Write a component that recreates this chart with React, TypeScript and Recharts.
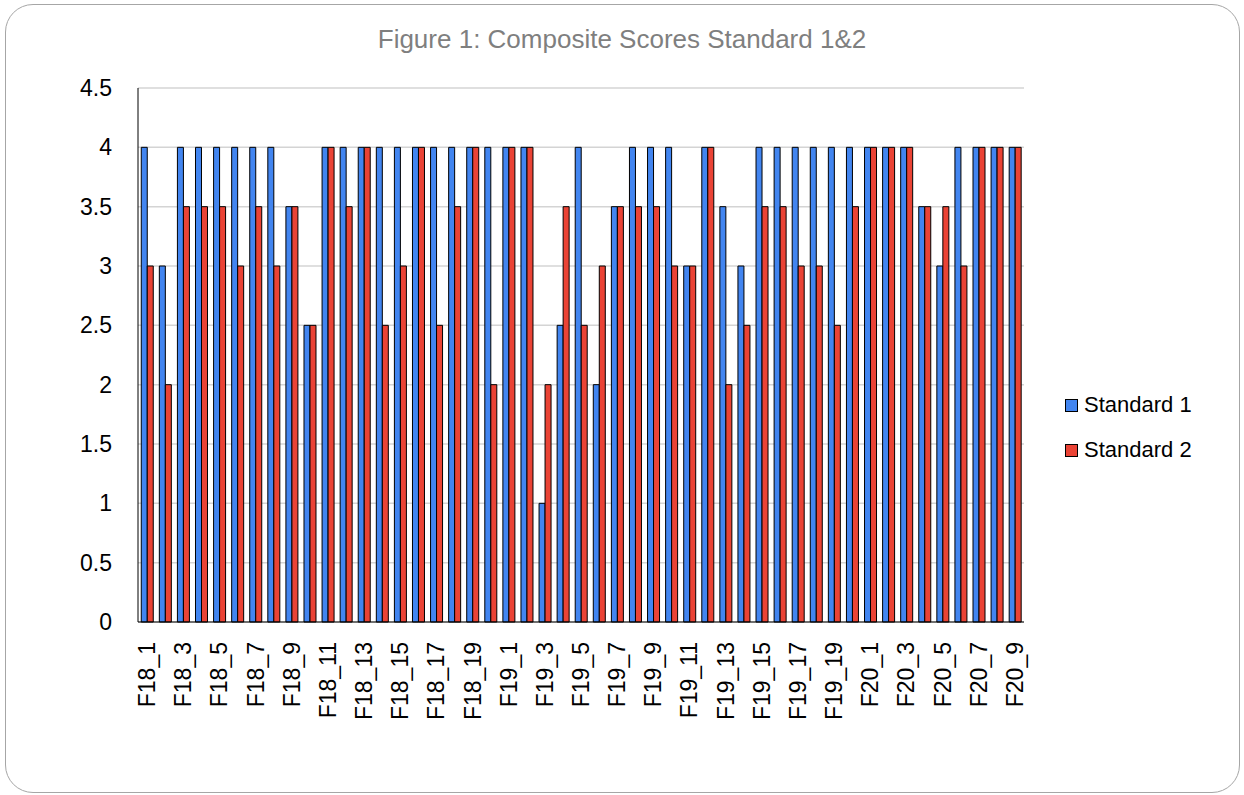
import React from 'react';
import { BarChart, Bar, XAxis, YAxis, CartesianGrid } from 'recharts';

const categories = [
  'F18_1','F18_2','F18_3','F18_4','F18_5','F18_6','F18_7','F18_8','F18_9','F18_10',
  'F18_11','F18_12','F18_13','F18_14','F18_15','F18_16','F18_17','F18_18','F18_19','F18_20',
  'F19_1','F19_2','F19_3','F19_4','F19_5','F19_6','F19_7','F19_8','F19_9','F19_10',
  'F19_11','F19_12','F19_13','F19_14','F19_15','F19_16','F19_17','F19_18','F19_19','F19_20',
  'F20_1','F20_2','F20_3','F20_4','F20_5','F20_6','F20_7','F20_8','F20_9',
];

const standard1 = [
  4, 3, 4, 4, 4, 4, 4, 4, 3.5, 2.5,
  4, 4, 4, 4, 4, 4, 4, 4, 4, 4,
  4, 4, 1, 2.5, 4, 2, 3.5, 4, 4, 4,
  3, 4, 3.5, 3, 4, 4, 4, 4, 4, 4,
  4, 4, 4, 3.5, 3, 4, 4, 4, 4,
];

const standard2 = [
  3, 2, 3.5, 3.5, 3.5, 3, 3.5, 3, 3.5, 2.5,
  4, 3.5, 4, 2.5, 3, 4, 2.5, 3.5, 4, 2,
  4, 4, 2, 3.5, 2.5, 3, 3.5, 3.5, 3.5, 3,
  3, 4, 2, 2.5, 3.5, 3.5, 3, 3, 2.5, 3.5,
  4, 4, 4, 3.5, 3.5, 3, 4, 4, 4,
];

const yTicks = [0, 0.5, 1, 1.5, 2, 2.5, 3, 3.5, 4, 4.5];

const seriesNames = ['Standard 1', 'Standard 2'];
const seriesColors = ['#4285f0', '#ea4335'];

const data = categories.map((c, i) => ({ name: c, s1: standard1[i], s2: standard2[i] }));

const FONT = 'Arial, "Liberation Sans", Helvetica, sans-serif';

const XTick = (props: any) => {
  const { x, y, payload } = props;
  return (
    <text
      x={x}
      y={y}
      transform={`rotate(-90, ${x}, ${y})`}
      textAnchor="end"
      dominantBaseline="central"
      dx={-12}
      fontSize={23}
      fontFamily={FONT}
      fill="#000"
    >
      {payload.value}
    </text>
  );
};

export default function App() {
  return (
    <div style={{ position: 'absolute', left: 0, top: 0, width: 1244, height: 795, background: '#fff', fontFamily: FONT }}>
      <div
        style={{
          position: 'absolute',
          left: 5,
          top: 4,
          width: 1235,
          height: 789,
          border: '1px solid #a6a6a6',
          borderRadius: 28,
          boxSizing: 'border-box',
        }}
      />
      <div
        style={{
          position: 'absolute',
          left: 0,
          top: 24,
          width: 1244,
          textAlign: 'center',
          fontSize: 26,
          lineHeight: '30px',
          color: '#7f7f7f',
          fontFamily: FONT,
        }}
      >
        Figure 1: Composite Scores Standard 1&amp;2
      </div>
      <div style={{ position: 'absolute', left: 0, top: 0 }}>
        <BarChart
          width={1244}
          height={795}
          data={data}
          margin={{ top: 88, right: 220, bottom: 0, left: 0 }}
          barCategoryGap="18%"
          barGap={0}
        >
          <CartesianGrid vertical={false} stroke="#d4d4d4" strokeWidth={1.5} />
          <XAxis
            dataKey="name"
            interval={1}
            tickLine={false}
            axisLine={{ stroke: '#000', strokeWidth: 1 }}
            height={173}
            tick={<XTick />}
          />
          <YAxis
            width={138}
            domain={[0, 4.5]}
            ticks={yTicks}
            tickLine={false}
            axisLine={{ stroke: '#000', strokeWidth: 1 }}
            tick={{ fontSize: 23, fill: '#000', fontFamily: FONT }}
            tickMargin={20}
            interval={0}
          />
          <Bar dataKey="s1" name={seriesNames[0]} fill={seriesColors[0]} stroke="#000" strokeWidth={1} isAnimationActive={false} />
          <Bar dataKey="s2" name={seriesNames[1]} fill={seriesColors[1]} stroke="#000" strokeWidth={1} isAnimationActive={false} />
        </BarChart>
      </div>
      {seriesNames.map((n, i) => (
        <div
          key={n}
          style={{
            position: 'absolute',
            left: 1065,
            top: 393 + i * 45,
            height: 24,
            display: 'flex',
            alignItems: 'center',
            fontSize: 22,
            color: '#000',
            fontFamily: FONT,
            whiteSpace: 'nowrap',
          }}
        >
          <span
            style={{
              display: 'inline-block',
              width: 13,
              height: 13,
              boxSizing: 'border-box',
              border: '1.5px solid #000',
              background: seriesColors[i],
              marginRight: 6,
            }}
          />
          {n}
        </div>
      ))}
    </div>
  );
}
